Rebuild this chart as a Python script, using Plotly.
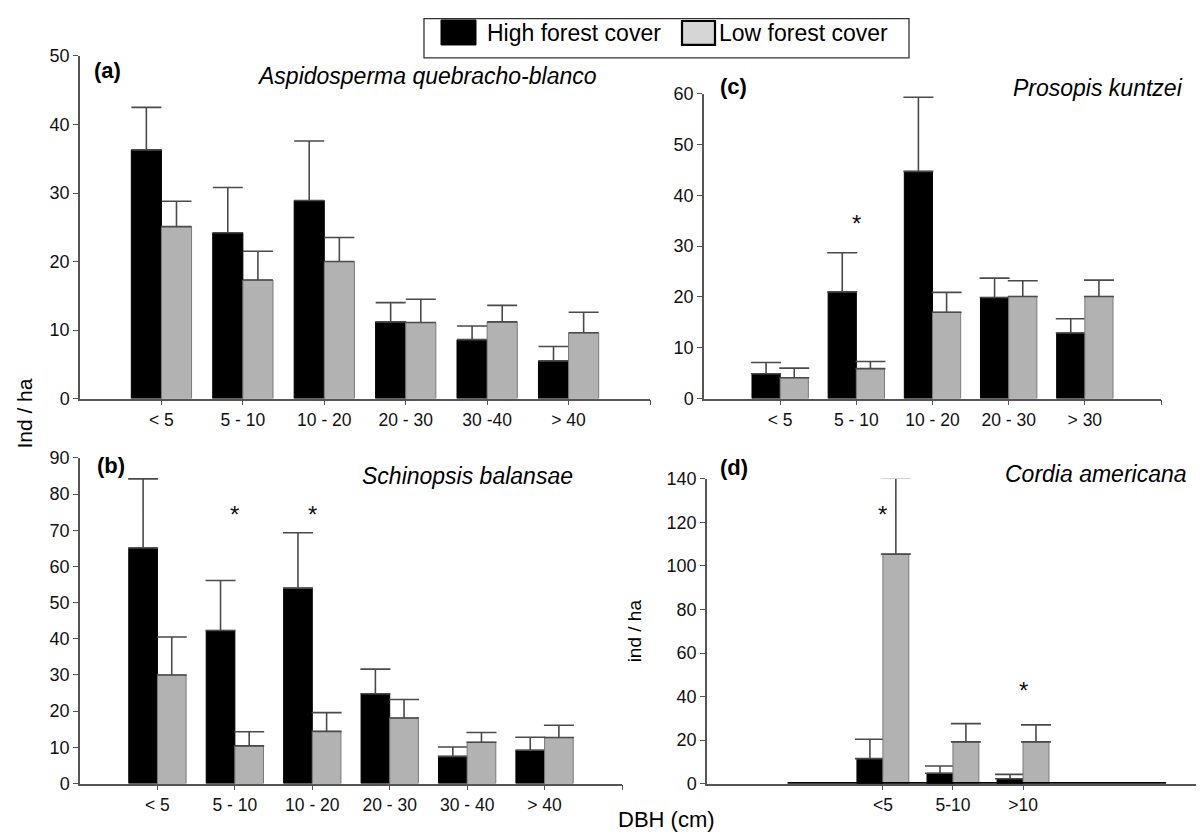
import plotly.graph_objects as go
import numpy as np

# ---------------- data ----------------
series_names = ["High forest cover", "Low forest cover"]

cats_a = ["< 5", "5 - 10", "10 - 20", "20 - 30", "30 -40", "> 40"]
a_high = [36.3, 24.2, 28.9, 11.2, 8.6, 5.5]
a_high_se = [6.2, 6.6, 8.7, 2.8, 2.0, 2.1]
a_low = [25.1, 17.3, 20.0, 11.1, 11.2, 9.6]
a_low_se = [3.7, 4.2, 3.5, 3.4, 2.4, 3.0]

cats_b = ["< 5", "5 - 10", "10 - 20", "20 - 30", "30 - 40", "> 40"]
b_high = [65.1, 42.3, 54.0, 24.8, 7.5, 9.2]
b_high_se = [19.1, 13.8, 15.3, 6.8, 2.6, 3.6]
b_low = [30.0, 10.4, 14.4, 18.1, 11.4, 12.7]
b_low_se = [10.5, 3.9, 5.2, 5.1, 2.7, 3.4]

cats_c = ["< 5", "5 - 10", "10 - 20", "20 - 30", "> 30"]
c_high = [4.9, 21.0, 44.7, 19.9, 12.9]
c_high_se = [2.2, 7.7, 14.6, 3.8, 2.8]
c_low = [4.1, 5.9, 17.0, 20.1, 20.1]
c_low_se = [1.9, 1.4, 3.9, 3.1, 3.2]

cats_d = ["<5", "5-10", ">10"]
d_high = [11.5, 4.8, 2.3]
d_high_se = [8.9, 3.3, 2.0]
d_low = [105.4, 19.2, 19.2]
d_low_se = [34.9, 8.4, 7.8]

# significance stars: (category, y value)
stars_b = [("5 - 10", 74.3), ("10 - 20", 74.3)]
stars_c = [("5 - 10", 34.5)]
stars_d = [("<5", 123.6), (">10", 42.9)]

species = {"a": "Aspidosperma quebracho-blanco", "b": "Schinopsis balansae",
           "c": "Prosopis kuntzei", "d": "Cordia americana"}

# ---------------- style ----------------
W, H = 1204, 833
BLACK = "#000000"
GRAY = "#b2b2b2"
GRAY_LINE = "#7a7a7a"
AXIS = "#555555"
ERR = "#4a4a4a"
FONT = "Liberation Sans, Arial, sans-serif"

def fx(px):
    return px / W

def fy(py):
    # vertical calibration of the photographed page
    c = (py - 17.0) / 0.977
    c = max(c, 0.6)
    return 1 - c / H

fig = go.Figure()

panels = [
    ("a", "x", "y", cats_a, a_high, a_high_se, a_low, a_low_se, [-1, 6], [0, 50], 10, (72, 642), (398, 55)),
    ("c", "x2", "y2", cats_c, c_high, c_high_se, c_low, c_low_se, [-1, 5], [0, 60], 10, (696, 1153), (398, 92.7)),
    ("b", "x3", "y3", cats_b, b_high, b_high_se, b_low, b_low_se, [-1, 6], [0, 90], 10, (72, 614), (783.3, 457.3)),
    ("d", "x4", "y4", cats_d, d_high, d_high_se, d_low, d_low_se, [-2.51, 4.64], [0, 140], 20, (699, 1200), (783.5, 478.3)),
]

d_baseline_x = [-1.36, 4.04]
d_baseline_y = [0, 0]
fig.add_trace(go.Scatter(x=d_baseline_x, y=d_baseline_y, mode="lines",
                         line=dict(color=BLACK, width=3.5), xaxis="x4", yaxis="y4",
                         showlegend=False, hoverinfo="skip", cliponaxis=False))

for key, xa, ya, cats, hi, hi_se, lo, lo_se, xr, yr, dt, xd, yd in panels:
    xpos = list(np.arange(len(cats)))
    fig.add_trace(go.Bar(
        x=xpos, y=hi, name=series_names[0], xaxis=xa, yaxis=ya,
        marker=dict(color=BLACK, line=dict(color=BLACK, width=1)),
        error_y=dict(type="data", symmetric=False, array=hi_se, arrayminus=[0] * len(hi),
                     color=ERR, thickness=1.6, width=15),
        offsetgroup="h", showlegend=False, cliponaxis=False))
    fig.add_trace(go.Bar(
        x=xpos, y=lo, name=series_names[1], xaxis=xa, yaxis=ya,
        marker=dict(color=GRAY, line=dict(color=GRAY_LINE, width=1)),
        error_y=dict(type="data", symmetric=False, array=lo_se, arrayminus=[0] * len(lo),
                     color=ERR, thickness=1.6, width=15),
        offsetgroup="l", showlegend=False, cliponaxis=False))

    xname = "xaxis" + xa[1:]
    yname = "yaxis" + ya[1:]
    fig.layout[xname] = dict(
        domain=[fx(xd[0]), fx(xd[1])], range=xr, anchor=ya, type="linear",
        tickmode="array", tickvals=xpos + [xr[1]], ticktext=cats + [""],
        showline=True, linecolor=AXIS, linewidth=1.5, ticks="outside",
        ticklen=5, tickcolor=AXIS, tickwidth=1.3, showgrid=False, zeroline=False,
        tickfont=dict(family=FONT, size=17.5, color="#111"), fixedrange=True)
    fig.layout[yname] = dict(
        domain=[fy(yd[0]), fy(yd[1])], range=yr, anchor=xa, dtick=dt,
        showline=True, linecolor=AXIS, linewidth=1.5, ticks="outside",
        ticklen=5, tickcolor=AXIS, tickwidth=1.3, showgrid=False, zeroline=False,
        tickfont=dict(family=FONT, size=18, color="#111"), fixedrange=True)

    star_list = {"b": stars_b, "c": stars_c, "d": stars_d}.get(key, [])
    for cat, yv in star_list:
        fig.add_annotation(x=cats.index(cat), y=yv, xref=xa, yref=ya, text="*",
                           showarrow=False, xanchor="center", yanchor="middle",
                           font=dict(family=FONT, size=24, color="#111"))

letters = [("(a)", 84, 70), ("(c)", 710, 86), ("(b)", 87, 465), ("(d)", 710, 467)]
for t, px, py in letters:
    fig.add_annotation(x=fx(px), y=fy(py), xref="paper", yref="paper", text="<b>%s</b>" % t,
                       showarrow=False, xanchor="left", yanchor="middle",
                       font=dict(family=FONT, size=22, color="#000"))

sp_pos = [("a", 591, 75), ("c", 1177, 87), ("b", 567, 475), ("d", 1181, 473)]
for k, px, py in sp_pos:
    fig.add_annotation(x=fx(px), y=fy(py), xref="paper", yref="paper", text="<i>%s</i>" % species[k],
                       showarrow=False, xanchor="right", yanchor="middle",
                       font=dict(family=FONT, size=23, color="#000"))

fig.add_annotation(x=fx(17), y=fy(413), xref="paper", yref="paper", text="Ind / ha",
                   textangle=-90, showarrow=False, xanchor="center", yanchor="middle",
                   font=dict(family=FONT, size=21, color="#000"))
fig.add_annotation(x=fx(626), y=fy(631), xref="paper", yref="paper", text="ind / ha",
                   textangle=-90, showarrow=False, xanchor="center", yanchor="middle",
                   font=dict(family=FONT, size=19, color="#000"))
fig.add_annotation(x=fx(658), y=fy(819), xref="paper", yref="paper", text="DBH (cm)",
                   showarrow=False, xanchor="center", yanchor="middle",
                   font=dict(family=FONT, size=22, color="#000"))

shapes = [
    dict(type="rect", xref="paper", yref="paper", x0=fx(416), x1=fx(901), y0=fy(57), y1=fy(8),
         line=dict(color="#333", width=1.3), fillcolor="white"),
    dict(type="rect", xref="paper", yref="paper", x0=fx(433), x1=fx(468), y0=fy(44), y1=fy(19),
         line=dict(color=BLACK, width=1), fillcolor=BLACK),
    dict(type="rect", xref="paper", yref="paper", x0=fx(674), x1=fx(707), y0=fy(44), y1=fy(20),
         line=dict(color=BLACK, width=2.2), fillcolor="#d6d6d6"),
]
fig.add_annotation(x=fx(477), y=fy(32), xref="paper", yref="paper", text=series_names[0],
                   showarrow=False, xanchor="left", yanchor="middle",
                   font=dict(family=FONT, size=23, color="#000"))
fig.add_annotation(x=fx(709), y=fy(32), xref="paper", yref="paper", text=series_names[1],
                   showarrow=False, xanchor="left", yanchor="middle",
                   font=dict(family=FONT, size=23, color="#000"))

fig.update_layout(
    width=W, height=H, margin=dict(l=0, r=0, t=0, b=0),
    paper_bgcolor="white", plot_bgcolor="white",
    barmode="group", bargap=0.26, bargroupgap=0,
    shapes=shapes, showlegend=False,
)

fig.write_html("out.html")
